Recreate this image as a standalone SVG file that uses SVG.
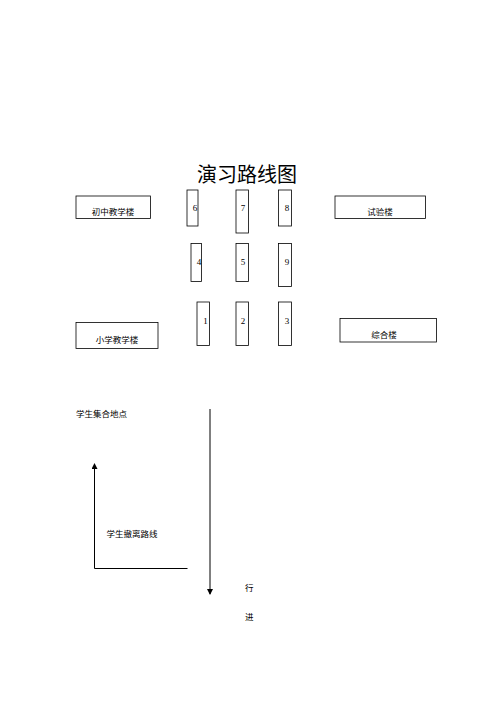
<svg xmlns="http://www.w3.org/2000/svg" width="500" height="707" viewBox="0 0 500 707">
<style>
rect.b{fill:#fff;stroke:#000;stroke-width:0.8}
text{font-family:"Liberation Serif","Noto Sans CJK SC",serif;fill:#000}
.lbl{font-size:8.5px}
.num{font-size:9px}
.t{font-size:20px}
line{stroke:#000;stroke-width:1}
</style>
<defs>
<marker id="ah" markerWidth="6" markerHeight="6" refX="5" refY="3" orient="auto" markerUnits="userSpaceOnUse">
<path d="M0,0 L6,3 L0,6 z" fill="#000"/>
</marker>
</defs>
<rect width="500" height="707" fill="#fff"/>
<text class="t" x="247" y="182" text-anchor="middle">演习路线图</text>
<g id="junior"><rect class="b" x="76" y="196" width="74.5" height="22.5"/><text class="lbl" x="113" y="214.5" text-anchor="middle">初中教学楼</text></g>
<g id="n6"><rect class="b" x="187" y="190" width="11" height="36"/><text class="num" x="195" y="211" text-anchor="middle">6</text></g>
<g id="n7"><rect class="b" x="236" y="190" width="12.5" height="43"/><text class="num" x="243" y="211" text-anchor="middle">7</text></g>
<g id="n8"><rect class="b" x="278.5" y="190" width="13" height="36"/><text class="num" x="287" y="211" text-anchor="middle">8</text></g>
<g id="lab"><rect class="b" x="335" y="196" width="90.5" height="22.5"/><text class="lbl" x="380" y="214.5" text-anchor="middle">试验楼</text></g>
<g id="n4"><rect class="b" x="191" y="243.5" width="10.5" height="38"/><text class="num" x="199" y="265" text-anchor="middle">4</text></g>
<g id="n5"><rect class="b" x="236" y="243.5" width="12.5" height="38"/><text class="num" x="243" y="265" text-anchor="middle">5</text></g>
<g id="n9"><rect class="b" x="278.5" y="243.5" width="13" height="43"/><text class="num" x="287" y="265" text-anchor="middle">9</text></g>
<g id="n1"><rect class="b" x="197" y="302" width="12.5" height="43.5"/><text class="num" x="205.5" y="324" text-anchor="middle">1</text></g>
<g id="n2"><rect class="b" x="236" y="302" width="12.5" height="43.5"/><text class="num" x="243" y="324" text-anchor="middle">2</text></g>
<g id="n3"><rect class="b" x="278.5" y="302" width="13" height="43.5"/><text class="num" x="287" y="324" text-anchor="middle">3</text></g>
<g id="primary"><rect class="b" x="76" y="322.5" width="82" height="26"/><text class="lbl" x="117" y="343" text-anchor="middle">小学教学楼</text></g>
<g id="general"><rect class="b" x="340" y="318.5" width="96.5" height="23.5"/><text class="lbl" x="384" y="338" text-anchor="middle">综合楼</text></g>
<text class="lbl" x="76" y="417">学生集合地点</text>
<text class="lbl" x="106.5" y="537">学生撤离路线</text>
<text class="lbl" x="245" y="591">行</text>
<text class="lbl" x="245" y="620">进</text>
<g id="connectors">
<line x1="210" y1="409" x2="210" y2="594" marker-end="url(#ah)"/>
<polyline points="187.5,568.5 94.5,568.5 94.5,464" fill="none" stroke="#000" stroke-width="1" marker-end="url(#ah)"/>
</g>
</svg>
